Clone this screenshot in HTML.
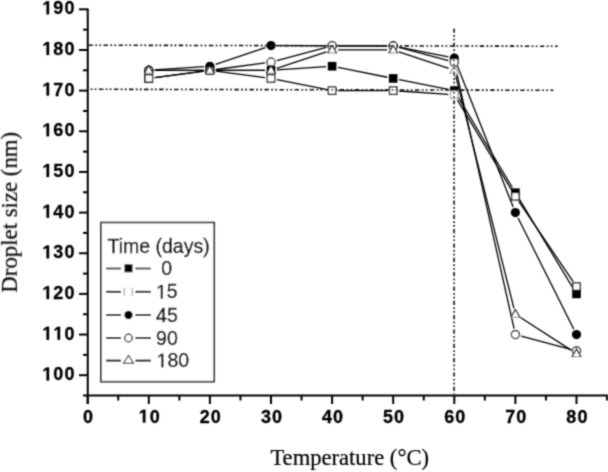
<!DOCTYPE html>
<html><head><meta charset="utf-8"><style>
html,body{margin:0;padding:0;background:#fff;}
svg{display:block;}
.yt{font-family:"Liberation Sans",sans-serif;font-weight:bold;font-size:18px;letter-spacing:1.0px;text-anchor:end;fill:#000;stroke:#000;stroke-width:0.3px;}
.xt{font-family:"Liberation Sans",sans-serif;font-weight:bold;font-size:18px;letter-spacing:1.0px;text-anchor:middle;fill:#000;stroke:#000;stroke-width:0.3px;}
.lg{font-family:"Liberation Sans",sans-serif;font-size:19.5px;fill:#000;stroke:#000;stroke-width:0.35px;}
.xl{font-family:"Liberation Serif",serif;font-size:22.6px;text-anchor:middle;fill:#000;stroke:#000;stroke-width:0.2px;}
.yl{font-family:"Liberation Serif",serif;font-size:22.8px;text-anchor:middle;fill:#000;stroke:#000;stroke-width:0.2px;}
</style></head><body>
<svg width="608" height="472" viewBox="0 0 608 472">
<defs><filter id="bl" x="-5%" y="-5%" width="110%" height="110%"><feConvolveMatrix order="3" kernelMatrix="0.04 0.11 0.04 0.11 0.40 0.11 0.04 0.11 0.04" edgeMode="duplicate" preserveAlpha="false"/></filter></defs>
<rect width="608" height="472" fill="#fff"/>
<g filter="url(#bl)">
<line x1="87.75" y1="8.51" x2="87.75" y2="404" stroke="#000" stroke-width="2.0"/>
<line x1="83" y1="395.6" x2="608" y2="395.6" stroke="#000" stroke-width="2.0"/>
<line x1="79" y1="375.21" x2="87.75" y2="375.21" stroke="#000" stroke-width="2.0"/>
<g transform="matrix(1,0,0,1.04,0,-15.215)"><text x="75.40" y="380.38" class="yt"> 00</text><path transform="translate(42.37,380.38) scale(0.00879,-0.00879)" d="M478 0V1170L140 959V1180L493 1409H759V0Z" fill="#000" stroke="#000" stroke-width="34.1"/></g>
<line x1="79" y1="334.56" x2="87.75" y2="334.56" stroke="#000" stroke-width="2.0"/>
<g transform="matrix(1,0,0,1.04,0,-13.588)"><text x="75.40" y="339.70" class="yt">  0</text><path transform="translate(42.37,339.70) scale(0.00879,-0.00879)" d="M478 0V1170L140 959V1180L493 1409H759V0Z" fill="#000" stroke="#000" stroke-width="34.1"/><path transform="translate(53.38,339.70) scale(0.00879,-0.00879)" d="M478 0V1170L140 959V1180L493 1409H759V0Z" fill="#000" stroke="#000" stroke-width="34.1"/></g>
<line x1="79" y1="293.90" x2="87.75" y2="293.90" stroke="#000" stroke-width="2.0"/>
<g transform="matrix(1,0,0,1.04,0,-11.960)"><text x="75.40" y="299.01" class="yt"> 20</text><path transform="translate(42.37,299.01) scale(0.00879,-0.00879)" d="M478 0V1170L140 959V1180L493 1409H759V0Z" fill="#000" stroke="#000" stroke-width="34.1"/></g>
<line x1="79" y1="253.25" x2="87.75" y2="253.25" stroke="#000" stroke-width="2.0"/>
<g transform="matrix(1,0,0,1.04,0,-10.333)"><text x="75.40" y="258.33" class="yt"> 30</text><path transform="translate(42.37,258.33) scale(0.00879,-0.00879)" d="M478 0V1170L140 959V1180L493 1409H759V0Z" fill="#000" stroke="#000" stroke-width="34.1"/></g>
<line x1="79" y1="212.59" x2="87.75" y2="212.59" stroke="#000" stroke-width="2.0"/>
<g transform="matrix(1,0,0,1.04,0,-8.706)"><text x="75.40" y="217.64" class="yt"> 40</text><path transform="translate(42.37,217.64) scale(0.00879,-0.00879)" d="M478 0V1170L140 959V1180L493 1409H759V0Z" fill="#000" stroke="#000" stroke-width="34.1"/></g>
<line x1="79" y1="171.93" x2="87.75" y2="171.93" stroke="#000" stroke-width="2.0"/>
<g transform="matrix(1,0,0,1.04,0,-7.078)"><text x="75.40" y="176.95" class="yt"> 50</text><path transform="translate(42.37,176.95) scale(0.00879,-0.00879)" d="M478 0V1170L140 959V1180L493 1409H759V0Z" fill="#000" stroke="#000" stroke-width="34.1"/></g>
<line x1="79" y1="131.28" x2="87.75" y2="131.28" stroke="#000" stroke-width="2.0"/>
<g transform="matrix(1,0,0,1.04,0,-5.451)"><text x="75.40" y="136.27" class="yt"> 60</text><path transform="translate(42.37,136.27) scale(0.00879,-0.00879)" d="M478 0V1170L140 959V1180L493 1409H759V0Z" fill="#000" stroke="#000" stroke-width="34.1"/></g>
<line x1="79" y1="90.62" x2="87.75" y2="90.62" stroke="#000" stroke-width="2.0"/>
<g transform="matrix(1,0,0,1.04,0,-3.823)"><text x="75.40" y="95.58" class="yt"> 70</text><path transform="translate(42.37,95.58) scale(0.00879,-0.00879)" d="M478 0V1170L140 959V1180L493 1409H759V0Z" fill="#000" stroke="#000" stroke-width="34.1"/></g>
<line x1="79" y1="49.97" x2="87.75" y2="49.97" stroke="#000" stroke-width="2.0"/>
<g transform="matrix(1,0,0,1.04,0,-2.196)"><text x="75.40" y="54.90" class="yt"> 80</text><path transform="translate(42.37,54.90) scale(0.00879,-0.00879)" d="M478 0V1170L140 959V1180L493 1409H759V0Z" fill="#000" stroke="#000" stroke-width="34.1"/></g>
<line x1="79" y1="9.31" x2="87.75" y2="9.31" stroke="#000" stroke-width="2.0"/>
<g transform="matrix(1,0,0,1.04,0,-0.568)"><text x="75.40" y="14.21" class="yt"> 90</text><path transform="translate(42.37,14.21) scale(0.00879,-0.00879)" d="M478 0V1170L140 959V1180L493 1409H759V0Z" fill="#000" stroke="#000" stroke-width="34.1"/></g>
<line x1="83" y1="354.89" x2="87.75" y2="354.89" stroke="#000" stroke-width="2.0"/>
<line x1="83" y1="314.23" x2="87.75" y2="314.23" stroke="#000" stroke-width="2.0"/>
<line x1="83" y1="273.57" x2="87.75" y2="273.57" stroke="#000" stroke-width="2.0"/>
<line x1="83" y1="232.92" x2="87.75" y2="232.92" stroke="#000" stroke-width="2.0"/>
<line x1="83" y1="192.26" x2="87.75" y2="192.26" stroke="#000" stroke-width="2.0"/>
<line x1="83" y1="151.61" x2="87.75" y2="151.61" stroke="#000" stroke-width="2.0"/>
<line x1="83" y1="110.95" x2="87.75" y2="110.95" stroke="#000" stroke-width="2.0"/>
<line x1="83" y1="70.29" x2="87.75" y2="70.29" stroke="#000" stroke-width="2.0"/>
<line x1="83" y1="29.64" x2="87.75" y2="29.64" stroke="#000" stroke-width="2.0"/>
<line x1="87.70" y1="395.6" x2="87.70" y2="404" stroke="#000" stroke-width="2.0"/>
<g transform="matrix(1,0,0,1.04,0,-16.904)"><text x="88.60" y="422.60" class="xt">0</text></g>
<line x1="148.80" y1="395.6" x2="148.80" y2="404" stroke="#000" stroke-width="2.0"/>
<g transform="matrix(1,0,0,1.04,0,-16.904)"><text x="149.70" y="422.60" class="xt"> 0</text><path transform="translate(138.69,422.60) scale(0.00879,-0.00879)" d="M478 0V1170L140 959V1180L493 1409H759V0Z" fill="#000" stroke="#000" stroke-width="34.1"/></g>
<line x1="209.90" y1="395.6" x2="209.90" y2="404" stroke="#000" stroke-width="2.0"/>
<g transform="matrix(1,0,0,1.04,0,-16.904)"><text x="210.80" y="422.60" class="xt">20</text></g>
<line x1="271.00" y1="395.6" x2="271.00" y2="404" stroke="#000" stroke-width="2.0"/>
<g transform="matrix(1,0,0,1.04,0,-16.904)"><text x="271.90" y="422.60" class="xt">30</text></g>
<line x1="332.10" y1="395.6" x2="332.10" y2="404" stroke="#000" stroke-width="2.0"/>
<g transform="matrix(1,0,0,1.04,0,-16.904)"><text x="333.00" y="422.60" class="xt">40</text></g>
<line x1="393.20" y1="395.6" x2="393.20" y2="404" stroke="#000" stroke-width="2.0"/>
<g transform="matrix(1,0,0,1.04,0,-16.904)"><text x="394.10" y="422.60" class="xt">50</text></g>
<line x1="454.30" y1="395.6" x2="454.30" y2="404" stroke="#000" stroke-width="2.0"/>
<g transform="matrix(1,0,0,1.04,0,-16.904)"><text x="455.20" y="422.60" class="xt">60</text></g>
<line x1="515.40" y1="395.6" x2="515.40" y2="404" stroke="#000" stroke-width="2.0"/>
<g transform="matrix(1,0,0,1.04,0,-16.904)"><text x="516.30" y="422.60" class="xt">70</text></g>
<line x1="576.50" y1="395.6" x2="576.50" y2="404" stroke="#000" stroke-width="2.0"/>
<g transform="matrix(1,0,0,1.04,0,-16.904)"><text x="577.40" y="422.60" class="xt">80</text></g>
<line x1="118.25" y1="395.6" x2="118.25" y2="400.5" stroke="#000" stroke-width="2.0"/>
<line x1="179.35" y1="395.6" x2="179.35" y2="400.5" stroke="#000" stroke-width="2.0"/>
<line x1="240.45" y1="395.6" x2="240.45" y2="400.5" stroke="#000" stroke-width="2.0"/>
<line x1="301.55" y1="395.6" x2="301.55" y2="400.5" stroke="#000" stroke-width="2.0"/>
<line x1="362.65" y1="395.6" x2="362.65" y2="400.5" stroke="#000" stroke-width="2.0"/>
<line x1="423.75" y1="395.6" x2="423.75" y2="400.5" stroke="#000" stroke-width="2.0"/>
<line x1="484.85" y1="395.6" x2="484.85" y2="400.5" stroke="#000" stroke-width="2.0"/>
<line x1="545.95" y1="395.6" x2="545.95" y2="400.5" stroke="#000" stroke-width="2.0"/>
<line x1="607.05" y1="395.6" x2="607.05" y2="400.5" stroke="#000" stroke-width="2.0"/>
<path d="M154.75 77.63L203.95 71.09M215.90 70.29L265.00 70.29M276.99 69.90L326.11 66.63M337.98 67.40L387.32 77.25M399.08 79.60L448.42 89.45M457.38 95.77L512.32 187.52M518.50 197.81L573.40 288.77" fill="none" stroke="#000" stroke-width="1.3"/>
<path d="M154.75 77.63L203.95 71.09M215.85 71.09L265.05 77.63M276.88 79.60L326.22 89.45M338.10 90.62L387.20 90.62M399.19 91.02L448.31 94.29M457.39 99.83L512.31 191.19M518.76 201.30L573.14 281.62" fill="none" stroke="#000" stroke-width="1.3"/>
<path d="M154.79 69.90L203.91 66.63M215.59 64.31L265.31 47.53M277.00 45.63L326.10 45.73M338.10 45.75L387.20 45.88M399.08 47.07L448.42 56.92M456.51 63.68L513.19 207.01M518.09 217.95L573.81 329.19" fill="none" stroke="#000" stroke-width="1.3"/>
<path d="M154.80 70.29L203.90 70.29M215.85 69.50L265.05 62.95M276.79 60.61L326.31 47.30M338.10 45.75L387.20 45.88M399.00 47.44L448.50 60.62M455.61 68.02L514.09 328.70M521.20 336.10L570.70 349.28" fill="none" stroke="#000" stroke-width="1.3"/>
<path d="M154.80 70.29L203.90 70.29M215.90 70.29L265.00 70.29M276.69 68.40L326.41 51.86M338.10 49.97L387.20 49.97M398.89 51.86L448.61 68.40M455.76 76.11L513.94 308.41M520.44 317.48L571.46 350.41" fill="none" stroke="#000" stroke-width="1.3"/>
<rect x="144.50" y="74.13" width="8.60" height="8.60" fill="#000"/>
<rect x="205.60" y="65.99" width="8.60" height="8.60" fill="#000"/>
<rect x="266.70" y="65.99" width="8.60" height="8.60" fill="#000"/>
<rect x="327.80" y="61.93" width="8.60" height="8.60" fill="#000"/>
<rect x="388.90" y="74.13" width="8.60" height="8.60" fill="#000"/>
<rect x="450.00" y="86.32" width="8.60" height="8.60" fill="#000"/>
<rect x="511.10" y="188.37" width="8.60" height="8.60" fill="#000"/>
<rect x="572.20" y="289.60" width="8.60" height="8.60" fill="#000"/>
<rect x="145.10" y="74.73" width="7.40" height="7.40" fill="#fff" stroke="#000" stroke-width="1.2"/>
<rect x="206.20" y="66.59" width="7.40" height="7.40" fill="#fff" stroke="#000" stroke-width="1.2"/>
<rect x="267.30" y="74.73" width="7.40" height="7.40" fill="#fff" stroke="#000" stroke-width="1.2"/>
<rect x="328.40" y="86.92" width="7.40" height="7.40" fill="#fff" stroke="#000" stroke-width="1.2"/>
<rect x="389.50" y="86.92" width="7.40" height="7.40" fill="#fff" stroke="#000" stroke-width="1.2"/>
<rect x="450.60" y="90.99" width="7.40" height="7.40" fill="#fff" stroke="#aaa" stroke-width="1.2"/>
<rect x="511.70" y="192.63" width="7.40" height="7.40" fill="#fff" stroke="#000" stroke-width="1.2"/>
<rect x="572.80" y="282.88" width="7.40" height="7.40" fill="#fff" stroke="#000" stroke-width="1.2"/>
<circle cx="148.80" cy="70.29" r="4.60" fill="#000"/>
<circle cx="209.90" cy="66.23" r="4.60" fill="#000"/>
<circle cx="271.00" cy="45.62" r="4.60" fill="#000"/>
<circle cx="332.10" cy="45.74" r="4.60" fill="#000"/>
<circle cx="393.20" cy="45.90" r="4.60" fill="#000"/>
<circle cx="454.30" cy="58.10" r="4.60" fill="#000"/>
<circle cx="515.40" cy="212.59" r="4.60" fill="#000"/>
<circle cx="576.50" cy="334.56" r="4.60" fill="#000"/>
<circle cx="148.80" cy="70.29" r="4.00" fill="#fff" stroke="#000" stroke-width="1.2"/>
<circle cx="209.90" cy="70.29" r="4.00" fill="#fff" stroke="#000" stroke-width="1.2"/>
<circle cx="271.00" cy="62.16" r="4.00" fill="#fff" stroke="#000" stroke-width="1.2"/>
<circle cx="332.10" cy="45.74" r="4.00" fill="#fff" stroke="#000" stroke-width="1.2"/>
<circle cx="393.20" cy="45.90" r="4.00" fill="#fff" stroke="#000" stroke-width="1.2"/>
<circle cx="454.30" cy="62.16" r="4.00" fill="#fff" stroke="#000" stroke-width="1.2"/>
<circle cx="515.40" cy="334.56" r="4.00" fill="#fff" stroke="#000" stroke-width="1.2"/>
<circle cx="576.50" cy="350.82" r="4.00" fill="#fff" stroke="#000" stroke-width="1.2"/>
<polygon points="148.80,65.49 153.30,73.29 144.30,73.29" fill="#fff"/><line x1="144.60" y1="73.29" x2="153.00" y2="73.29" stroke="#999" stroke-width="1.1"/><polyline points="144.30,73.59 148.80,65.49 153.30,73.59" fill="none" stroke="#000" stroke-width="1.2" stroke-linejoin="round"/>
<polygon points="209.90,65.49 214.40,73.29 205.40,73.29" fill="#fff"/><line x1="205.70" y1="73.29" x2="214.10" y2="73.29" stroke="#999" stroke-width="1.1"/><polyline points="205.40,73.59 209.90,65.49 214.40,73.59" fill="none" stroke="#000" stroke-width="1.2" stroke-linejoin="round"/>
<polygon points="271.00,65.49 275.50,73.29 266.50,73.29" fill="#fff"/><line x1="266.80" y1="73.29" x2="275.20" y2="73.29" stroke="#999" stroke-width="1.1"/><polyline points="266.50,73.59 271.00,65.49 275.50,73.59" fill="none" stroke="#000" stroke-width="1.2" stroke-linejoin="round"/>
<polygon points="332.10,45.17 336.60,52.97 327.60,52.97" fill="#fff"/><line x1="327.90" y1="52.97" x2="336.30" y2="52.97" stroke="#999" stroke-width="1.1"/><polyline points="327.60,53.27 332.10,45.17 336.60,53.27" fill="none" stroke="#000" stroke-width="1.2" stroke-linejoin="round"/>
<polygon points="393.20,45.17 397.70,52.97 388.70,52.97" fill="#fff"/><line x1="389.00" y1="52.97" x2="397.40" y2="52.97" stroke="#999" stroke-width="1.1"/><polyline points="388.70,53.27 393.20,45.17 397.70,53.27" fill="none" stroke="#000" stroke-width="1.2" stroke-linejoin="round"/>
<polygon points="454.30,65.49 458.80,73.29 449.80,73.29" fill="#fff"/><line x1="450.10" y1="73.29" x2="458.50" y2="73.29" stroke="#ccc" stroke-width="1.1"/><polyline points="449.80,73.59 454.30,65.49 458.80,73.59" fill="none" stroke="#999" stroke-width="1.2" stroke-linejoin="round"/>
<polygon points="515.40,309.43 519.90,317.23 510.90,317.23" fill="#fff"/><line x1="511.20" y1="317.23" x2="519.60" y2="317.23" stroke="#999" stroke-width="1.1"/><polyline points="510.90,317.53 515.40,309.43 519.90,317.53" fill="none" stroke="#000" stroke-width="1.2" stroke-linejoin="round"/>
<polygon points="576.50,348.87 581.00,356.67 572.00,356.67" fill="#fff"/><line x1="572.30" y1="356.67" x2="580.70" y2="356.67" stroke="#999" stroke-width="1.1"/><polyline points="572.00,356.97 576.50,348.87 581.00,356.97" fill="none" stroke="#000" stroke-width="1.2" stroke-linejoin="round"/>
<line x1="89" y1="45.2" x2="557.8" y2="46.25" stroke="#111" stroke-width="1.6" stroke-dasharray="4.4 2.4 1.8 2.2 1.8 2.45" stroke-dashoffset="0.55"/>
<line x1="89" y1="89.25" x2="553.3" y2="90.3" stroke="#111" stroke-width="1.6" stroke-dasharray="4.4 2.4 1.8 2.2 1.8 2.45" stroke-dashoffset="5.14"/>
<line x1="454.1" y1="28.5" x2="454.1" y2="394" stroke="#111" stroke-width="1.6" stroke-dasharray="4.2 2.3 1.7 2.1 1.7 2.33"/>
<rect x="100.9" y="222.5" width="113.3" height="159.2" fill="#fff" stroke="#3a3a3a" stroke-width="1.7"/>
<text x="107.5" y="253.4" class="lg">Time (days)</text>
<line x1="106" y1="268.5" x2="121" y2="268.5" stroke="#444" stroke-width="1.9"/>
<line x1="135.5" y1="268.5" x2="150.8" y2="268.5" stroke="#444" stroke-width="1.9"/>
<rect x="124.5" y="264.3" width="8" height="8" fill="#000"/>
<text x="161.30" y="275.10" class="lg">0</text>
<line x1="106" y1="291.8" x2="121" y2="291.8" stroke="#000" stroke-width="1.9"/>
<line x1="135.5" y1="291.8" x2="150.8" y2="291.8" stroke="#000" stroke-width="1.9"/>
<rect x="124.5" y="288.2" width="8" height="7.2" fill="#fff" stroke="#eee" stroke-width="1"/>
<line x1="124.1" y1="288.2" x2="124.1" y2="295.4" stroke="#aaa" stroke-width="1.3"/>
<line x1="132.4" y1="288.2" x2="132.4" y2="295.4" stroke="#aaa" stroke-width="1.3"/>
<text x="156.00" y="298.40" class="lg"> 5</text><path transform="translate(156.00,298.40) scale(0.00952,-0.00952)" d="M515 0V1237L197 1010V1180L530 1409H696V0Z" fill="#000" stroke="#000" stroke-width="36.8"/>
<line x1="106" y1="315" x2="121" y2="315" stroke="#000" stroke-width="1.9"/>
<line x1="135.5" y1="315" x2="150.8" y2="315" stroke="#000" stroke-width="1.9"/>
<circle cx="128.5" cy="315.0" r="4.2" fill="#000"/>
<text x="156.10" y="321.60" class="lg">45</text>
<line x1="106" y1="338" x2="121" y2="338" stroke="#000" stroke-width="1.9"/>
<line x1="135.5" y1="338" x2="150.8" y2="338" stroke="#000" stroke-width="1.9"/>
<circle cx="128.5" cy="338.0" r="3.8" fill="#fff" stroke="#000" stroke-width="1.2"/>
<text x="156.10" y="344.60" class="lg">90</text>
<line x1="106" y1="360.6" x2="121" y2="360.6" stroke="#000" stroke-width="1.9"/>
<line x1="135.5" y1="360.6" x2="150.8" y2="360.6" stroke="#000" stroke-width="1.9"/>
<polygon points="128.5,355.4 133.5,363.2 123.5,363.2" fill="#fff" stroke="#222" stroke-width="1.1"/>
<text x="156.60" y="367.20" class="lg"> 80</text><path transform="translate(156.60,367.20) scale(0.00952,-0.00952)" d="M515 0V1237L197 1010V1180L530 1409H696V0Z" fill="#000" stroke="#000" stroke-width="36.8"/>
<text x="349.7" y="465" class="xl">Temperature (°C)</text>
<text transform="translate(16.9,212.3) rotate(-90)" class="yl">Droplet size (nm)</text>
</g>
</svg>
</body></html>
